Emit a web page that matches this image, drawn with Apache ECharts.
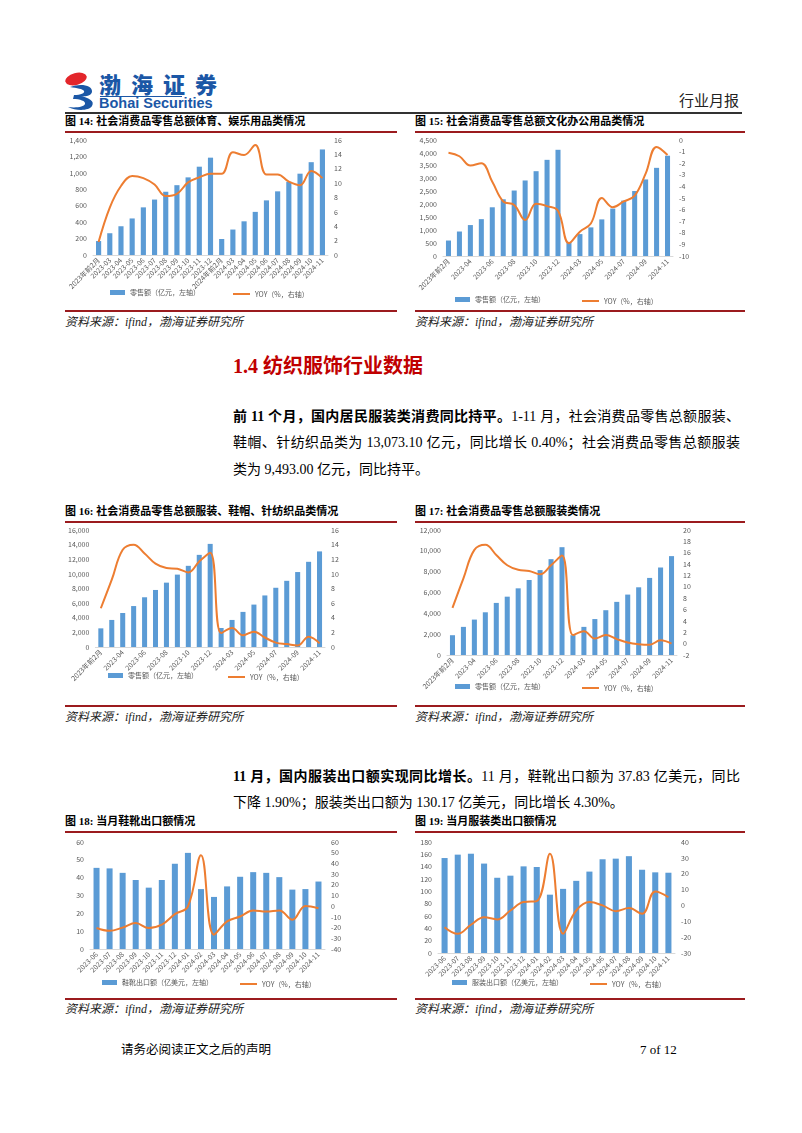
<!DOCTYPE html>
<html><head><meta charset="utf-8">
<script src="https://cdn.jsdelivr.net/npm/echarts@6/dist/echarts.min.js"></script>
<style>
body{margin:0;background:#fff;}
#page{position:relative;width:802px;height:1133px;overflow:hidden;font-family:"Liberation Serif","Noto Sans CJK SC",serif;color:#000;background:#fff;}
.abs{position:absolute;white-space:nowrap;}
.ftitle{font-size:11px;font-weight:bold;line-height:14px;}
.src{font-size:12px;font-style:italic;color:#222;line-height:14px;}
.rl{position:absolute;height:1.5px;background:#9B1B1E;}
.para{font-size:14px;line-height:18px;}
.just{text-align:justify;text-align-last:justify;white-space:normal;}
.chart{position:absolute;}
</style></head>
<body><div id="page">

<!-- header -->
<svg class="abs" style="left:64px;top:71px" width="36" height="40" viewBox="0 0 36 40">
  <ellipse cx="12" cy="8" rx="11" ry="6" transform="rotate(-15 12 8)" fill="#E3262B"/>
  <path d="M6,16 C16,12 29,14 28,21 C27,25 21,26 17,25 C25,27 31,30 28,35 C25,40 12,40 4,36 C12,37 20,36 21,33 C22,30 16,28 9,28 L10,24 C17,24 21,22 20,20 C19,18 13,17 6,16 Z" fill="#1B57A6"/>
</svg>
<div class="abs" style="left:99px;top:70px;font-family:'Noto Sans CJK SC';font-weight:900;font-size:22px;letter-spacing:10px;color:#1B57A6;line-height:27px;">渤海证券</div>
<div class="abs" style="left:100px;top:96px;width:82px;height:1px;background:#1B57A6;"></div>
<div class="abs" style="left:99px;top:96px;font-family:'Liberation Sans';font-weight:bold;font-size:14.5px;color:#1B57A6;line-height:15px;">Bohai Securities</div>
<div class="abs" style="left:679px;top:90px;font-family:'Noto Sans CJK SC';font-size:15px;color:#222;line-height:20px;">行业月报</div>
<div class="abs" style="left:65px;top:112px;width:677px;height:1.5px;background:#333;"></div>

<!-- row 1 -->
<div class="abs ftitle" style="left:65px;top:114px;">图 14: 社会消费品零售总额体育、娱乐用品类情况</div>
<div class="abs ftitle" style="left:415px;top:114px;">图 15: 社会消费品零售总额文化办公用品类情况</div>
<div class="rl" style="left:65px;top:131px;width:332px;"></div>
<div class="rl" style="left:415px;top:131px;width:330px;"></div>
<div id="c14" class="chart" style="left:65px;top:133px;width:332px;height:176px;"></div>
<div id="c15" class="chart" style="left:415px;top:133px;width:330px;height:176px;"></div>
<div class="rl" style="left:65px;top:310px;width:332px;"></div>
<div class="rl" style="left:415px;top:310px;width:330px;"></div>
<div class="abs src" style="left:65px;top:315px;">资料来源：ifind，渤海证券研究所</div>
<div class="abs src" style="left:415px;top:315px;">资料来源：ifind，渤海证券研究所</div>

<div class="abs" style="left:233px;top:354px;font-size:20px;font-weight:bold;color:#C00000;line-height:24px;">1.4 纺织服饰行业数据</div>

<div class="abs para just" style="left:233px;top:408px;width:507px;"><b>前 11 个月，国内居民服装类消费同比持平。</b>1-11 月，社会消费品零售总额服装、</div>
<div class="abs para just" style="left:233px;top:434px;width:507px;">鞋帽、针纺织品类为 13,073.10 亿元，同比增长 0.40%；社会消费品零售总额服装</div>
<div class="abs para" style="left:233px;top:461px;">类为 9,493.00 亿元，同比持平。</div>

<!-- row 2 -->
<div class="abs ftitle" style="left:65px;top:504px;">图 16: 社会消费品零售总额服装、鞋帽、针纺织品类情况</div>
<div class="abs ftitle" style="left:415px;top:504px;">图 17: 社会消费品零售总额服装类情况</div>
<div class="rl" style="left:65px;top:521px;width:332px;"></div>
<div class="rl" style="left:415px;top:521px;width:330px;"></div>
<div id="c16" class="chart" style="left:65px;top:522px;width:332px;height:182px;"></div>
<div id="c17" class="chart" style="left:415px;top:522px;width:330px;height:182px;"></div>
<div class="rl" style="left:65px;top:705px;width:332px;"></div>
<div class="rl" style="left:415px;top:705px;width:330px;"></div>
<div class="abs src" style="left:65px;top:710px;">资料来源：ifind，渤海证券研究所</div>
<div class="abs src" style="left:415px;top:710px;">资料来源：ifind，渤海证券研究所</div>

<div class="abs para just" style="left:233px;top:768px;width:507px;"><b>11 月，国内服装出口额实现同比增长。</b>11 月，鞋靴出口额为 37.83 亿美元，同比</div>
<div class="abs para" style="left:233px;top:794px;">下降 1.90%；服装类出口额为 130.17 亿美元，同比增长 4.30%。</div>

<!-- row 3 -->
<div class="abs ftitle" style="left:65px;top:814px;">图 18: 当月鞋靴出口额情况</div>
<div class="abs ftitle" style="left:415px;top:814px;">图 19: 当月服装类出口额情况</div>
<div class="rl" style="left:65px;top:831px;width:332px;"></div>
<div class="rl" style="left:415px;top:831px;width:330px;"></div>
<div id="c18" class="chart" style="left:65px;top:832px;width:332px;height:165px;"></div>
<div id="c19" class="chart" style="left:415px;top:832px;width:330px;height:165px;"></div>
<div class="rl" style="left:65px;top:998px;width:332px;"></div>
<div class="rl" style="left:415px;top:998px;width:330px;"></div>
<div class="abs src" style="left:65px;top:1002px;">资料来源：ifind，渤海证券研究所</div>
<div class="abs src" style="left:415px;top:1002px;">资料来源：ifind，渤海证券研究所</div>

<div class="abs" style="left:121px;top:1042px;font-size:12.5px;line-height:16px;">请务必阅读正文之后的声明</div>
<div class="abs" style="left:640px;top:1042px;font-size:13px;font-weight:normal;line-height:16px;">7 of 12</div>
</div>

<script>
// ---------- data ----------
const catsMonthly = ['2023年前2月','2023-03','2023-04','2023-05','2023-06','2023-07','2023-08','2023-09','2023-10','2023-11','2023-12','2024年前2月','2024-03','2024-04','2024-05','2024-06','2024-07','2024-08','2024-09','2024-10','2024-11'];
const catsExport = ['2023-06','2023-07','2023-08','2023-09','2023-10','2023-11','2023-12','2024-01','2024-02','2024-03','2024-04','2024-05','2024-06','2024-07','2024-08','2024-09','2024-10','2024-11'];

const sales14 = [170,265,350,445,580,675,770,850,945,1075,1185,195,310,410,525,665,775,890,990,1130,1285];
const yoy14   = [1.8,6.6,9.6,11.0,10.7,9.8,8.2,8.5,10.1,10.8,11.3,11.3,14.3,13.9,15.3,11.2,11.2,10.2,9.7,11.7,10.7];

const sales15 = [600,950,1200,1430,1890,2200,2540,2930,3290,3730,4120,540,850,1110,1420,1840,2150,2520,2970,3420,3890];
const yoy15   = [-1.1,-1.4,-2.2,-2.0,-3.6,-5.3,-5.6,-6.9,-5.5,-5.7,-6.1,-8.9,-7.9,-7.2,-5.0,-5.8,-5.3,-4.8,-2.9,-0.6,-1.3];

const sales16 = [2550,3700,4650,5600,6800,7800,8800,9900,11100,12600,14100,2600,3700,4800,5800,7050,8100,9050,10250,11650,13073];
const yoy16   = [5.3,9.2,13.3,14.0,12.8,11.4,10.8,10.7,10.2,11.7,12.9,1.9,2.6,1.6,2.1,1.3,0.6,0.4,0.2,1.4,0.5];

const sales17 = [1900,2700,3400,4100,5000,5600,6400,7200,8150,9200,10350,1900,2700,3450,4300,5100,5800,6500,7400,8400,9493];
const yoy17   = [6.3,11.5,16.5,17.4,15.6,13.8,13.0,12.8,12.2,13.8,15.5,1.5,2.2,0.9,1.5,0.8,0.2,-0.1,-0.2,0.6,0.0];

const sales18 = [45.5,45.2,42.7,38.7,34.4,38.7,47.8,53.9,33.6,29.2,35.1,40.5,43.1,42.7,40.3,33.3,33.6,37.83];
const yoy18   = [-20.4,-23.0,-20.0,-15.8,-20.4,-17.3,-7.4,-0.3,47.7,-26.6,-14.2,-9.6,-4.0,-5.0,-4.0,-12.7,0.3,-1.9];

const sales19 = [154,159.5,161,145,122,125.4,140.5,139.5,94.6,104,117,132,152,153,157,135,130.8,130.17];
const yoy19   = [-13.7,-17.9,-12.2,-7.4,-8.8,-3.2,2.1,2.7,32.6,-17.9,-3.2,2.1,0.0,-3.6,-1.7,-5.3,8.8,5.3];

const nameSales = '零售额（亿元，左轴）';
const nameYoy = 'YOY（%，右轴）';

// ---------- chart builder ----------
const FONT = '"Noto Sans CJK SC","Liberation Sans",sans-serif';
const TXT = '#595959';
function build(id, c) {
  const ch = echarts.init(document.getElementById(id));
  const lblStyle = {fontSize: 7, color: TXT, fontFamily: FONT};
  ch.setOption({
    animation: false,
    textStyle: {fontFamily: FONT},
    grid: c.grid,
    legend: [
      {data: [{name: c.barName, icon: 'rect'}], left: c.lg[0], top: c.lg[2], padding: 0, itemWidth: 15, itemHeight: 5, itemGap: 3, textStyle: lblStyle, selectedMode: false},
      {data: [{name: nameYoy, icon: 'rect'}], left: c.lg[1], top: c.lg[2] + 1.5, padding: 0, itemWidth: 17, itemHeight: 2, textStyle: lblStyle, selectedMode: false}
    ],
    xAxis: {
      type: 'category', data: c.cats,
      axisLine: {lineStyle: {color: '#D9D9D9'}},
      axisTick: {show: false},
      axisLabel: Object.assign({rotate: 45, interval: c.li, margin: 4}, lblStyle)
    },
    yAxis: [
      {type: 'value', min: c.yl[0], max: c.yl[1], interval: c.yl[2], splitLine: {show: false},
       axisLine: {show: false}, axisTick: {show: false},
       axisLabel: Object.assign({margin: 6, formatter: v => v.toLocaleString('en-US')}, lblStyle)},
      {type: 'value', min: c.yr[0], max: c.yr[1], interval: c.yr[2], splitLine: {show: false},
       axisLine: {show: false}, axisTick: {show: false},
       axisLabel: Object.assign({margin: 6}, lblStyle)}
    ],
    series: [
      {name: c.barName, type: 'bar', data: c.bars, barWidth: '46%', itemStyle: {color: '#5B9BD5'}, yAxisIndex: 0},
      {name: nameYoy, type: 'line', data: c.yoy, yAxisIndex: 1, smooth: 0.4, showSymbol: false, symbol: 'none',
       lineStyle: {color: '#ED7D31', width: 2}, itemStyle: {color: '#ED7D31'}}
    ]
  });
}

build('c14', {cats: catsMonthly, bars: sales14, yoy: yoy14, barName: nameSales, li: 0,
  grid: {left: 28, top: 7, width: 235, height: 115}, yl: [0, 1400, 200], yr: [0, 16, 2], lg: [45, 168, 156]});
build('c15', {cats: catsMonthly, bars: sales15, yoy: yoy15, barName: nameSales, li: 1,
  grid: {left: 28, top: 7, width: 230, height: 116}, yl: [0, 4500, 500], yr: [-10, 0, 1], lg: [40, 167, 163]});
build('c16', {cats: catsMonthly, bars: sales16, yoy: yoy16, barName: nameSales, li: 1,
  grid: {left: 30, top: 8, width: 230, height: 117}, yl: [0, 16000, 2000], yr: [0, 16, 2], lg: [43, 163, 150]});
build('c17', {cats: catsMonthly, bars: sales17, yoy: yoy17, barName: nameSales, li: 1,
  grid: {left: 32, top: 8, width: 230, height: 125}, yl: [0, 12000, 2000], yr: [-2, 20, 2], lg: [40, 167, 161]});
build('c18', {cats: catsExport, bars: sales18, yoy: yoy18, barName: '鞋靴出口额（亿美元，左轴）', li: 0,
  grid: {left: 25, top: 10, width: 235, height: 107}, yl: [0, 60, 10], yr: [-40, 60, 10], lg: [37, 175, 147]});
build('c19', {cats: catsExport, bars: sales19, yoy: yoy19, barName: '服装出口额（亿美元，左轴）', li: 0,
  grid: {left: 23, top: 10, width: 237, height: 111}, yl: [0, 180, 20], yr: [-30, 40, 10], lg: [37, 175, 147]});
</script>
</body></html>
